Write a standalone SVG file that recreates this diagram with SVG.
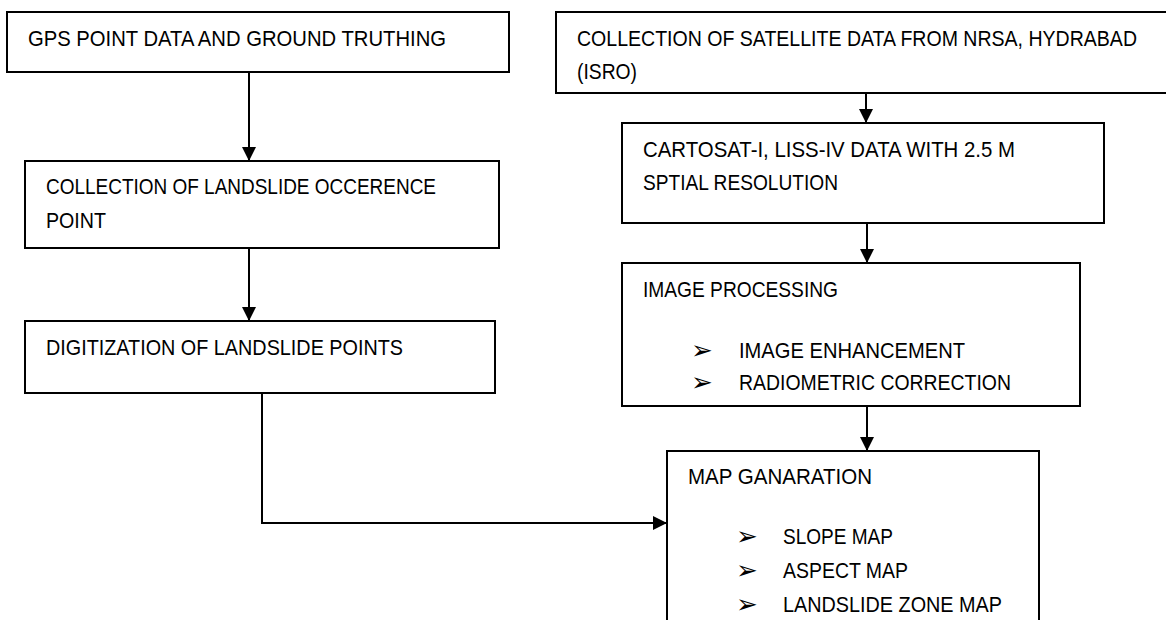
<svg xmlns="http://www.w3.org/2000/svg" width="1166" height="620" viewBox="0 0 1166 620">
<defs>
<marker id="ah" markerWidth="14" markerHeight="14" refX="14" refY="7" orient="auto" markerUnits="userSpaceOnUse">
<path d="M0,0 L14,7 L0,14 Z" fill="#000"/>
</marker>
<style>
.box{fill:#fff;stroke:#000;stroke-width:2}
.t{font-family:"Liberation Sans",Arial,sans-serif;font-size:22px;fill:#000}
.b{font-family:"DejaVu Sans",sans-serif;font-size:26px;fill:#000}
.c{fill:none;stroke:#000;stroke-width:2}
</style>
</defs>
<rect width="1166" height="620" fill="#fff"/>
<g id="connectors">
<line class="c" x1="249" y1="72" x2="249" y2="161" marker-end="url(#ah)"/>
<line class="c" x1="249" y1="248" x2="249" y2="321" marker-end="url(#ah)"/>
<polyline class="c" points="262,393 262,523 667,523" marker-end="url(#ah)"/>
<line class="c" x1="866" y1="93" x2="866" y2="123" marker-end="url(#ah)"/>
<line class="c" x1="867" y1="223" x2="867" y2="263" marker-end="url(#ah)"/>
<line class="c" x1="867" y1="406" x2="867" y2="451" marker-end="url(#ah)"/>
</g>
<g id="gps">
<rect class="box" x="7" y="12" width="502" height="60"/>
<text class="t" x="28" y="46" textLength="418" lengthAdjust="spacingAndGlyphs">GPS POINT DATA AND GROUND TRUTHING</text>
</g>
<g id="collection-landslide">
<rect class="box" x="25" y="161" width="474" height="87"/>
<text class="t" x="46" y="194" textLength="390" lengthAdjust="spacingAndGlyphs">COLLECTION OF LANDSLIDE OCCERENCE</text>
<text class="t" x="46" y="228" textLength="60" lengthAdjust="spacingAndGlyphs">POINT</text>
</g>
<g id="digitization">
<rect class="box" x="25" y="321" width="470" height="72"/>
<text class="t" x="46" y="355" textLength="357" lengthAdjust="spacingAndGlyphs">DIGITIZATION OF LANDSLIDE POINTS</text>
</g>
<g id="satellite">
<rect class="box" x="556" y="12" width="620" height="81"/>
<text class="t" x="577" y="46" textLength="560" lengthAdjust="spacingAndGlyphs">COLLECTION OF SATELLITE DATA FROM NRSA, HYDRABAD</text>
<text class="t" x="577" y="79" textLength="60" lengthAdjust="spacingAndGlyphs">(ISRO)</text>
</g>
<g id="cartosat">
<rect class="box" x="622" y="123" width="482" height="100"/>
<text class="t" x="643" y="157" textLength="372" lengthAdjust="spacingAndGlyphs">CARTOSAT-I, LISS-IV DATA WITH 2.5 M</text>
<text class="t" x="643" y="190" textLength="195" lengthAdjust="spacingAndGlyphs">SPTIAL RESOLUTION</text>
</g>
<g id="image-processing">
<rect class="box" x="622" y="263" width="458" height="143"/>
<text class="t" x="643" y="297" textLength="195" lengthAdjust="spacingAndGlyphs">IMAGE PROCESSING</text>
<text class="b" x="691" y="359">➢</text>
<text class="t" x="739" y="358" textLength="226" lengthAdjust="spacingAndGlyphs">IMAGE ENHANCEMENT</text>
<text class="b" x="691" y="391">➢</text>
<text class="t" x="739" y="390" textLength="272" lengthAdjust="spacingAndGlyphs">RADIOMETRIC CORRECTION</text>
</g>
<g id="map-generation">
<rect class="box" x="667" y="451" width="372" height="180"/>
<text class="t" x="688" y="484" textLength="184" lengthAdjust="spacingAndGlyphs">MAP GANARATION</text>
<text class="b" x="736" y="545">➢</text>
<text class="t" x="783" y="544" textLength="110" lengthAdjust="spacingAndGlyphs">SLOPE MAP</text>
<text class="b" x="736" y="579">➢</text>
<text class="t" x="783" y="578" textLength="125" lengthAdjust="spacingAndGlyphs">ASPECT MAP</text>
<text class="b" x="736" y="613">➢</text>
<text class="t" x="783" y="612" textLength="219" lengthAdjust="spacingAndGlyphs">LANDSLIDE ZONE MAP</text>
</g>
</svg>
